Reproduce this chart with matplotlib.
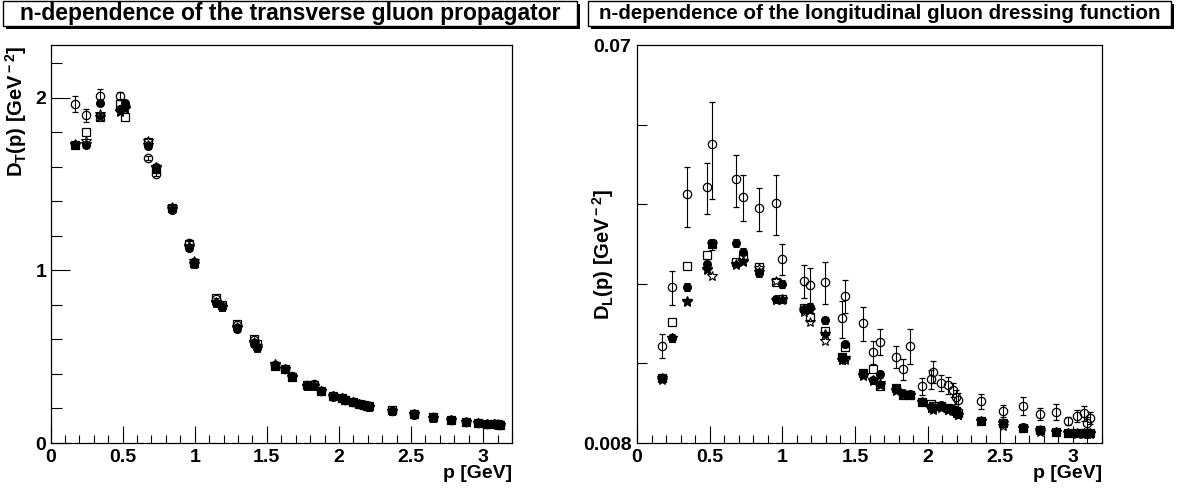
import matplotlib
matplotlib.use("Agg")
import matplotlib.pyplot as plt
from matplotlib.patches import Rectangle
from matplotlib.ticker import MultipleLocator, FixedLocator, FixedFormatter, NullFormatter

plt.rcParams['font.family'] = ['Liberation Sans', 'DejaVu Sans']
plt.rcParams['font.weight'] = 'bold'
plt.rcParams['mathtext.fontset'] = 'custom'
plt.rcParams['mathtext.rm'] = 'Liberation Sans:bold'
plt.rcParams['mathtext.it'] = 'Liberation Sans:bold'
plt.rcParams['mathtext.bf'] = 'Liberation Sans:bold'

# momenta [GeV]
p = [0.171, 0.243, 0.345, 0.484, 0.514, 0.678, 0.729, 0.841, 0.959, 0.996,
     1.149, 1.19, 1.292, 1.414, 1.429, 1.555, 1.624, 1.673, 1.782, 1.83,
     1.878, 1.962, 2.02, 2.04, 2.095, 2.142, 2.175, 2.195, 2.21, 2.37,
     2.518, 2.655, 2.775, 2.88, 2.965, 3.03, 3.078, 3.1, 3.115]

# transverse propagator D_T(p)
dt_circ = [1.965, 1.900, 2.012, 2.012, 1.960, 1.654, 1.558, 1.360, 1.160, 1.050,
           0.835, 0.795, 0.685, 0.595, 0.555, 0.450, 0.428, 0.390, 0.335, 0.340,
           0.300, 0.270, 0.260, 0.250, 0.236, 0.226, 0.220, 0.216, 0.212, 0.188,
           0.166, 0.148, 0.134, 0.122, 0.115, 0.113, 0.111, 0.108, 0.106]
dt_circ_err = [0.045, 0.037, 0.040, 0.020, 0.020, 0.012, 0.012, 0.010, 0.010, 0.008,
               0.008, 0.007, 0.007, 0.006, 0.006, 0.005, 0.005, 0.005, 0.004, 0.004,
               0.004, 0.004, 0.004, 0.004, 0.003, 0.003, 0.003, 0.003, 0.003, 0.003,
               0.003, 0.003, 0.003, 0.003, 0.003, 0.003, 0.003, 0.003, 0.003]
dt_fcirc = [1.727, 1.727, 1.969, 1.934, 1.969, 1.722, 1.602, 1.350, 1.130, 1.040,
            0.810, 0.790, 0.660, 0.575, 0.548, 0.445, 0.427, 0.380, 0.330, 0.333,
            0.300, 0.268, 0.258, 0.249, 0.235, 0.224, 0.219, 0.214, 0.211, 0.187,
            0.165, 0.147, 0.133, 0.122, 0.114, 0.113, 0.110, 0.107, 0.105]
dt_square = [1.730, 1.800, 1.888, 1.965, 1.892, 1.747, 1.590, 1.360, 1.155, 1.045,
             0.840, 0.800, 0.690, 0.600, 0.575, 0.448, 0.430, 0.385, 0.335, 0.335,
             0.302, 0.270, 0.262, 0.250, 0.237, 0.225, 0.220, 0.215, 0.212, 0.189,
             0.167, 0.148, 0.134, 0.123, 0.115, 0.113, 0.111, 0.108, 0.106]
dt_ostar = [1.735, 1.753, 1.905, 1.920, 1.934, 1.750, 1.592, 1.370, 1.140, 1.055,
            0.820, 0.790, 0.675, 0.585, 0.560, 0.450, 0.428, 0.385, 0.332, 0.333,
            0.300, 0.270, 0.262, 0.250, 0.236, 0.225, 0.219, 0.214, 0.211, 0.188,
            0.166, 0.147, 0.133, 0.122, 0.114, 0.112, 0.110, 0.107, 0.105]
dt_fstar = [1.730, 1.735, 1.890, 1.925, 1.940, 1.730, 1.600, 1.355, 1.135, 1.040,
            0.810, 0.790, 0.665, 0.580, 0.550, 0.460, 0.427, 0.382, 0.333, 0.333,
            0.300, 0.270, 0.262, 0.249, 0.236, 0.224, 0.219, 0.214, 0.211, 0.188,
            0.166, 0.147, 0.133, 0.122, 0.114, 0.112, 0.110, 0.107, 0.105]

# longitudinal D_L(p)
dl_circ = [0.01358, 0.01869, 0.0310, 0.03234, 0.04074, 0.03373, 0.03062, 0.02875, 0.02965, 0.02181,
           0.01937, 0.01893, 0.01927, 0.01578, 0.01786, 0.01536, 0.01311, 0.0139, 0.01281, 0.01195,
           0.01359, 0.01091, 0.01134, 0.01178, 0.01111, 0.01097, 0.01068, 0.0103, 0.0101, 0.01005,
           0.00954, 0.0098, 0.00937, 0.00947, 0.00903, 0.00928, 0.00941, 0.0089, 0.00918]
dl_circ_err = [0.0009, 0.0017, 0.0051, 0.0044, 0.0105, 0.0048, 0.0038, 0.0033, 0.0048, 0.0018,
               0.0017, 0.0018, 0.0022, 0.0016, 0.0016, 0.0014, 0.0008, 0.0010, 0.0008, 0.0007,
               0.0013, 0.0005, 0.0006, 0.0007, 0.0005, 0.0005, 0.0004, 0.0004, 0.0004, 0.0004,
               0.0003, 0.0005, 0.0003, 0.0004, 0.0002, 0.0003, 0.0004, 0.0003, 0.0003]
dl_fcirc = [0.0114, 0.0142, 0.01875, 0.02122, 0.02366, 0.02376, 0.0227, 0.0202, 0.0175, 0.01903,
            0.01658, 0.01681, 0.01564, 0.01281, 0.0137, 0.01173, 0.01128, 0.01163, 0.01078, 0.01049,
            0.01045, 0.01002, 0.00975, 0.0097, 0.00984, 0.00967, 0.00961, 0.0095, 0.00935, 0.00903,
            0.0089, 0.00874, 0.00858, 0.0085, 0.00846, 0.00843, 0.00843, 0.00842, 0.00843]
dl_fcirc_err = [0.0002, 0.0003, 0.0004, 0.0004, 0.0007, 0.0005, 0.0004, 0.0004, 0.0003, 0.0004,
                0.0003, 0.0003, 0.0003, 0.0002, 0.0002, 0.0002, 0.0002, 0.0002, 0.0002, 0.0002,
                0.0002, 0.0001, 0.0001, 0.0001, 0.0001, 0.0001, 0.0001, 0.0001, 0.0001, 0.0001,
                0.0001, 0.0001, 0.0001, 0.0001, 0.0001, 0.0001, 0.0001, 0.0001, 0.0001]
dl_square = [0.0114, 0.0155, 0.0210, 0.02229, 0.0237, 0.0215, 0.02209, 0.0209, 0.0192, 0.0175,
             0.0167, 0.01592, 0.01475, 0.0128, 0.01352, 0.01173, 0.01195, 0.01091, 0.0108, 0.0104,
             0.0104, 0.0100, 0.0099, 0.0098, 0.0098, 0.0097, 0.0096, 0.0095, 0.0094, 0.0090,
             0.0089, 0.0087, 0.0086, 0.0085, 0.00846, 0.00843, 0.00843, 0.00843, 0.00843]
dl_ostar = [0.0113, 0.0142, 0.01728, 0.02054, 0.01988, 0.0211, 0.0215, 0.0208, 0.0193, 0.0174,
            0.0163, 0.0155, 0.01398, 0.01258, 0.01258, 0.01153, 0.0112, 0.01111, 0.0106, 0.0104,
            0.0104, 0.0100, 0.0097, 0.0096, 0.0097, 0.0096, 0.0095, 0.0094, 0.0093, 0.0090,
            0.0088, 0.0087, 0.0085, 0.0085, 0.00845, 0.00842, 0.00842, 0.00842, 0.00842]
dl_fstar = [0.0114, 0.01415, 0.0173, 0.0206, 0.0236, 0.0212, 0.0216, 0.0203, 0.0174, 0.0175,
            0.0165, 0.0165, 0.0145, 0.0126, 0.0127, 0.0116, 0.0113, 0.0110, 0.0107, 0.0104,
            0.0104, 0.0100, 0.0097, 0.0097, 0.0098, 0.0096, 0.0096, 0.0094, 0.0093, 0.0090,
            0.0089, 0.0087, 0.0086, 0.0085, 0.00845, 0.00843, 0.00843, 0.00843, 0.00843]

W, H = 1177, 491
fig = plt.figure(figsize=(W / 100, H / 100), dpi=100)


def title_box(x0, x1, text, size):
    y0, y1 = H - 26, H - 1
    shadow = Rectangle(((x0 + 3) / W, (y0 - 3) / H), (x1 - x0) / W, (y1 - y0) / H,
                       transform=fig.transFigure, facecolor='black', edgecolor='black', lw=0)
    box = Rectangle((x0 / W, y0 / H), (x1 - x0) / W, (y1 - y0) / H,
                    transform=fig.transFigure, facecolor='white', edgecolor='black', lw=1)
    fig.add_artist(shadow)
    fig.add_artist(box)
    fig.text((x0 + x1) / 2 / W, (y0 + y1) / 2 / H, text, ha='center', va='center',
             fontsize=size, fontweight='bold')


def draw_series(ax, y_o, e_o, y_f, e_f, y_s, y_os, y_fs):
    kw = dict(color='k', ecolor='k', elinewidth=0.8, capsize=2, capthick=0.8, ls='none')
    ax.errorbar(p, y_o, yerr=e_o, fmt='o', ms=6, mfc='none', mec='k', mew=0.9, **kw)
    if e_f is not None:
        ax.errorbar(p, y_f, yerr=e_f, fmt='o', ms=5.5, mfc='k', mec='k', **kw)
    else:
        ax.plot(p, y_f, 'o', ms=5.5, color='k', ls='none')
    ax.plot(p, y_s, 's', ms=5.5, mfc='none', mec='k', mew=0.9, ls='none')
    ax.plot(p, y_os, '*', ms=7.5, mfc='none', mec='k', mew=0.8, ls='none')
    ax.plot(p, y_fs, '*', ms=7.5, color='k', ls='none')


def style_axes(ax):
    ax.set_xlim(0, 3.2)
    ax.xaxis.set_major_locator(MultipleLocator(0.5))
    ax.xaxis.set_minor_locator(MultipleLocator(0.1))
    ax.xaxis.set_major_formatter(plt.FuncFormatter(lambda v, _: '%g' % v))
    ax.tick_params(axis='x', which='major', direction='in', length=12, width=0.8,
                   labelsize=14, pad=4)
    ax.tick_params(axis='x', which='minor', direction='in', length=6, width=0.8)
    for s in ax.spines.values():
        s.set_linewidth(0.9)
    ax.set_xlabel('p [GeV]', fontsize=14, fontweight='bold', loc='right')
    ax.xaxis.set_label_coords(1.0, -0.055)


# left panel
ax1 = fig.add_axes([50.5 / W, 48 / H, 461.5 / W, 398 / H])
draw_series(ax1, dt_circ, dt_circ_err, dt_fcirc, None, dt_square, dt_ostar, dt_fstar)
style_axes(ax1)
ax1.set_ylim(0, 2.307)
ax1.yaxis.set_major_locator(MultipleLocator(1))
ax1.yaxis.set_minor_locator(MultipleLocator(0.2))
ax1.yaxis.set_major_formatter(plt.FuncFormatter(lambda v, _: '%g' % v))
ax1.tick_params(axis='y', which='major', direction='in', length=14, width=0.8,
                labelsize=14, pad=3)
ax1.tick_params(axis='y', which='minor', direction='in', length=8, width=0.8)
ax1.set_ylabel(r'D$_{\rm T}$(p) [GeV$^{\rm -2}$]', fontsize=14.5, fontweight='bold', loc='top')
ax1.yaxis.set_label_coords(-0.047, 1.0)
for lab in ax1.get_xticklabels() + ax1.get_yticklabels():
    lab.set_fontweight('bold')

# right panel
ax2 = fig.add_axes([637 / W, 48 / H, 465 / W, 398 / H])
draw_series(ax2, dl_circ, dl_circ_err, dl_fcirc, dl_fcirc_err, dl_square, dl_ostar, dl_fstar)
style_axes(ax2)
ax2.set_yscale('log')
ymin, ymax = 0.008, 0.07
ax2.set_ylim(ymin, ymax)
ax2.yaxis.set_major_locator(FixedLocator([ymin, ymax]))
ax2.yaxis.set_major_formatter(FixedFormatter(['0.008', '0.07']))
ax2.yaxis.set_minor_locator(FixedLocator([ymin * (ymax / ymin) ** (k / 5) for k in range(1, 5)]))
ax2.yaxis.set_minor_formatter(NullFormatter())
ax2.tick_params(axis='y', which='major', direction='in', length=0, labelsize=14, pad=4)
ax2.tick_params(axis='y', which='minor', direction='in', length=7, width=0.8)
ax2.set_ylabel(r'D$_{\rm L}$(p) [GeV$^{\rm -2}$]', fontsize=14.5, fontweight='bold', loc='top')
ax2.yaxis.set_label_coords(-0.045, 0.64)
for lab in ax2.get_xticklabels() + ax2.get_yticklabels():
    lab.set_fontweight('bold')

title_box(3, 577, 'n-dependence of the transverse gluon propagator', 16.5)
title_box(588, 1171, 'n-dependence of the longitudinal gluon dressing function', 14.8)

fig.savefig('out.png', dpi=100)
